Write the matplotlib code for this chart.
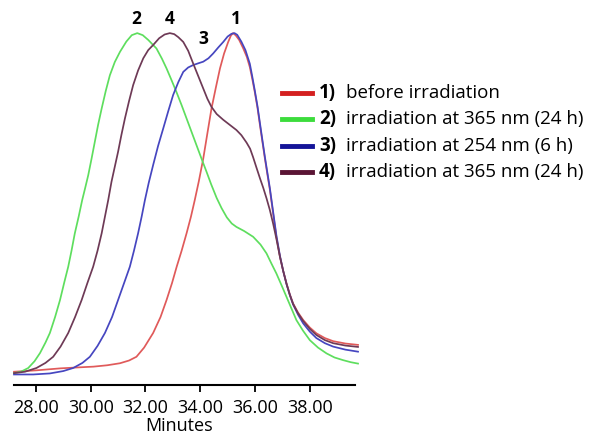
import matplotlib
matplotlib.use('Agg')
import matplotlib.pyplot as plt
from matplotlib.lines import Line2D

plt.rcParams['font.family'] = ['Open Sans', 'DejaVu Sans']

# retention time (min) and normalised detector response
# 1) before irradiation
t1 = [27.2, 28.0, 28.9, 29.6, 30.1, 30.6, 31.07, 31.4, 31.67, 31.95, 32.28, 32.55, 32.77, 32.97,
      33.14, 33.32, 33.5, 33.66, 33.8, 33.95, 34.11, 34.26, 34.41, 34.57, 34.72, 34.87, 35.02,
      35.12, 35.2, 35.3, 35.42, 35.57, 35.7, 35.81, 35.9, 35.99, 36.09, 36.18, 36.27, 36.36,
      36.45, 36.54, 36.66, 36.78, 36.91, 37.03, 37.15, 37.27, 37.39, 37.57, 37.76, 38.0, 38.24,
      38.55, 38.85, 39.3, 39.76]
y1 = [0.004, 0.008, 0.014, 0.017, 0.019, 0.023, 0.029, 0.037, 0.048, 0.075, 0.118, 0.165, 0.215,
      0.265, 0.313, 0.36, 0.411, 0.46, 0.509, 0.565, 0.631, 0.705, 0.778, 0.84, 0.896, 0.94,
      0.974, 0.993, 1.0, 0.993, 0.98, 0.955, 0.93, 0.9, 0.865, 0.827, 0.78, 0.729, 0.68, 0.631,
      0.585, 0.54, 0.47, 0.4, 0.342, 0.3, 0.264, 0.232, 0.205, 0.178, 0.156, 0.134, 0.117, 0.103,
      0.094, 0.087, 0.083]

# 2) irradiation at 365 nm (24 h)
t2 = [27.2, 27.45, 27.72, 27.95, 28.15, 28.35, 28.51, 28.7, 28.88, 29.03, 29.18, 29.3, 29.42,
      29.56, 29.69, 29.8, 29.91, 30.03, 30.15, 30.27, 30.4, 30.55, 30.7, 30.88, 31.07, 31.3,
      31.5, 31.7, 31.9, 32.1, 32.4, 32.6, 32.77, 32.95, 33.13, 33.32, 33.5, 33.68, 33.86, 34.05,
      34.23, 34.4, 34.6, 34.78, 34.97, 35.15, 35.32, 35.6, 35.93, 36.2, 36.42, 36.6, 36.78,
      36.97, 37.15, 37.33, 37.51, 37.75, 38.0, 38.3, 38.61, 38.9, 39.22, 39.5, 39.76]
y2 = [0.0, 0.004, 0.015, 0.035, 0.059, 0.09, 0.118, 0.165, 0.215, 0.265, 0.313, 0.36, 0.411,
      0.46, 0.509, 0.545, 0.582, 0.63, 0.68, 0.73, 0.778, 0.83, 0.876, 0.915, 0.945, 0.975,
      0.994, 1.0, 0.994, 0.98, 0.955, 0.925, 0.896, 0.862, 0.827, 0.788, 0.749, 0.71, 0.671,
      0.63, 0.592, 0.555, 0.515, 0.485, 0.458, 0.44, 0.43, 0.418, 0.401, 0.378, 0.352, 0.322,
      0.293, 0.258, 0.224, 0.19, 0.156, 0.125, 0.097, 0.075, 0.058, 0.046, 0.038, 0.032, 0.028]

# 3) irradiation at 254 nm (6 h)
t3 = [27.2, 27.9, 28.51, 29.0, 29.36, 29.7, 29.97, 30.25, 30.52, 30.78, 31.0, 31.22, 31.43,
      31.58, 31.73, 31.86, 31.98, 32.12, 32.28, 32.46, 32.65, 32.83, 33.01, 33.2, 33.38, 33.56,
      33.74, 33.92, 34.11, 34.3, 34.47, 34.66, 34.84, 35.0, 35.14, 35.25, 35.35, 35.5, 35.65,
      35.81, 35.9, 35.99, 36.09, 36.18, 36.27, 36.36, 36.45, 36.54, 36.66, 36.78, 36.91, 37.03,
      37.15, 37.27, 37.39, 37.57, 37.76, 38.0, 38.24, 38.55, 38.85, 39.3, 39.76]
y3 = [-0.004, -0.004, -0.001, 0.006, 0.015, 0.03, 0.048, 0.08, 0.118, 0.165, 0.215, 0.265, 0.313,
      0.36, 0.411, 0.46, 0.509, 0.56, 0.612, 0.668, 0.72, 0.77, 0.818, 0.856, 0.886, 0.899,
      0.906, 0.911, 0.916, 0.926, 0.94, 0.958, 0.974, 0.99, 0.998, 1.0, 0.995, 0.975, 0.95,
      0.91, 0.872, 0.832, 0.785, 0.735, 0.685, 0.636, 0.59, 0.545, 0.475, 0.405, 0.345, 0.3,
      0.262, 0.23, 0.202, 0.172, 0.146, 0.122, 0.103, 0.088, 0.078, 0.069, 0.063]

# 4) irradiation at 365 nm (24 h)
t4 = [27.2, 27.6, 28.02, 28.35, 28.63, 28.9, 29.18, 29.43, 29.67, 29.88, 30.09, 30.25, 30.4,
      30.52, 30.64, 30.76, 30.88, 31.0, 31.12, 31.25, 31.4, 31.55, 31.73, 31.92, 32.1, 32.28,
      32.5, 32.7, 32.89, 33.05, 33.2, 33.38, 33.56, 33.74, 33.92, 34.11, 34.26, 34.41, 34.6,
      34.84, 35.08, 35.32, 35.5, 35.69, 35.82, 35.93, 36.05, 36.18, 36.3, 36.42, 36.54, 36.66,
      36.78, 36.91, 37.03, 37.15, 37.27, 37.39, 37.57, 37.76, 38.0, 38.24, 38.55, 38.85, 39.3,
      39.76]
y4 = [0.0, 0.004, 0.015, 0.03, 0.048, 0.078, 0.118, 0.165, 0.215, 0.265, 0.313, 0.36, 0.411,
      0.46, 0.509, 0.563, 0.607, 0.651, 0.7, 0.749, 0.8, 0.847, 0.89, 0.926, 0.95, 0.965, 0.985,
      0.996, 1.0, 0.997, 0.988, 0.974, 0.948, 0.911, 0.875, 0.837, 0.807, 0.783, 0.762, 0.745,
      0.73, 0.715, 0.7, 0.678, 0.66, 0.635, 0.605, 0.573, 0.545, 0.514, 0.48, 0.44, 0.395,
      0.342, 0.3, 0.262, 0.23, 0.203, 0.176, 0.153, 0.13, 0.112, 0.097, 0.088, 0.081, 0.077]

curve_colors = ['#e05a5a', '#5ede5e', '#4646c0', '#6e3a56']
legend_colors = ['#d42020', '#3cdc3c', '#141498', '#5a1434']
legend_nums = ['1)', '2)', '3)', '4)']
legend_text = ['before irradiation', 'irradiation at 365 nm (24 h)',
               'irradiation at 254 nm (6 h)', 'irradiation at 365 nm (24 h)']
peak_labels = ['1', '2', '3', '4']
peak_pos = [(35.3, 1.015), (31.65, 1.015), (34.13, 0.956), (32.89, 1.015)]
xticks = [28, 30, 32, 34, 36, 38]

fig = plt.figure(figsize=(6.02, 4.36), dpi=100)
ax = fig.add_axes([14 / 602, 51 / 436, 341 / 602, 375 / 436])

series = [(t1, y1), (t2, y2), (t3, y3), (t4, y4)]
for (t, y), c in zip(series, curve_colors):
    ax.plot(t, y, color=c, lw=1.25, clip_on=False, solid_joinstyle='round')

for lab, (px, py) in zip(peak_labels, peak_pos):
    ax.text(px, py, lab, fontsize=12.5, fontweight='bold', ha='center', va='bottom')

ax.set_xlim(27.2, 39.65)
ax.set_ylim(-0.035, 1.068)
ax.set_xticks(xticks)
ax.set_xticklabels(['%.2f' % v for v in xticks], fontsize=13)
ax.tick_params(axis='x', direction='out', length=5, width=1.3, pad=5)
ax.set_yticks([])
for s in ['left', 'right', 'top']:
    ax.spines[s].set_visible(False)
ax.spines['bottom'].set_linewidth(1.5)
ax.set_xlabel('Minutes', fontsize=13)
ax.xaxis.set_label_coords(0.485, -0.085)

# legend, drawn by hand in pixel positions
rows = [93, 119, 146, 172]
for yy, c, n, txt in zip(rows, legend_colors, legend_nums, legend_text):
    yf = 1 - yy / 436
    fig.add_artist(Line2D([282 / 602, 312 / 602], [yf, yf], color=c, lw=3.5,
                          transform=fig.transFigure))
    fig.text(319 / 602, yf, n, fontsize=13.5, fontweight='bold', va='center')
    fig.text(346 / 602, yf, txt, fontsize=13.5, va='center')

fig.savefig('out.png', dpi=100)
